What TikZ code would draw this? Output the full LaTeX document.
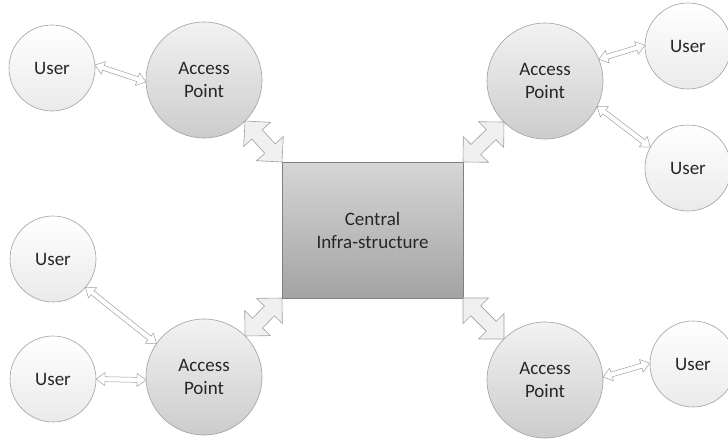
\documentclass[tikz,border=0pt]{standalone}
\usepackage{fontspec}
\setmainfont{Carlito}
\usetikzlibrary{calc}
\definecolor{lineg}{HTML}{A0A0A0}
\definecolor{txt}{HTML}{262626}
\definecolor{arrfill}{HTML}{F0F0F0}
% generic double block arrow: style, A, B, dist(h,w), angle(h,w), dist(h,s), angle(h,s)
\newcommand\dbarrow[7]{%
  \filldraw[#1] (#2)
    -- ($(#2)!#4!#5:(#3)$)
    -- ($(#2)!#6!#7:(#3)$)
    -- ($(#3)!#6!-#7:(#2)$)
    -- ($(#3)!#4!-#5:(#2)$)
    -- (#3)
    -- ($(#3)!#4!#5:(#2)$)
    -- ($(#3)!#6!#7:(#2)$)
    -- ($(#2)!#6!-#7:(#3)$)
    -- ($(#2)!#4!-#5:(#3)$)
    -- cycle;}
\newcommand\bigconn[2]{\dbarrow{bigarr}{#1}{#2}{25.456pt}{45}{19.313pt}{21.25}}
\newcommand\smallconn[2]{\dbarrow{smallarr}{#1}{#2}{11.1pt}{35.84}{9.34pt}{15.52}}
\tikzset{
  base/.style={draw=lineg, line width=0.6pt, text=txt, align=center,
    font=\fontsize{19}{23}\selectfont, inner sep=0pt, outer sep=0pt},
  user/.style={base, circle, minimum size=86pt, top color=white, bottom color=black!8},
  ap/.style={base, circle, minimum size=116pt, top color=black!5, bottom color=black!20},
  centralbox/.style={base, rectangle, minimum width=181pt, minimum height=136pt,
    top color=black!16, bottom color=black!36, draw=black!50},
  bigarr/.style={draw=lineg, fill=arrfill, line width=0.6pt, line join=miter},
  smallarr/.style={draw=lineg, fill=white, line width=0.5pt, line join=miter},
}
\begin{document}
\begin{tikzpicture}[x=1pt,y=1pt]
\clip (0,0) rectangle (728,-439);
\fill[white] (0,0) rectangle (728,-439);
% nodes
\node[user] (u1) at (52,-68) {User};
\node[ap] (ap1) at (204,-80) {Access\\Point};
\node[user] (u2) at (688,-46) {User};
\node[user] (u3) at (688,-168) {User};
\node[ap] (ap2) at (545,-81) {Access\\Point};
\node[user] (u4) at (53,-259) {User};
\node[user] (u5) at (53,-379) {User};
\node[ap] (ap3) at (204,-377) {Access\\Point};
\node[ap] (ap4) at (545,-380) {Access\\Point};
\node[user] (u6) at (693,-364) {User};
\node[centralbox] (c) at (372.5,-230) {Central\\Infra-structure};
% block arrows between access points and the central infrastructure
\bigconn{ap1.-45}{c.north west}
\bigconn{ap2.225}{c.north east}
\bigconn{ap3.45}{c.south west}
\bigconn{ap4.135}{c.south east}
% small arrows between users and access points
\smallconn{u1.4}{ap1.182}
\smallconn{ap2.22}{u2.179}
\smallconn{ap2.-26.6}{u3.151}
\smallconn{u4.-41}{ap3.145}
\smallconn{u5.0}{ap3.183}
\smallconn{ap4.3}{u6.179}
\end{tikzpicture}
\end{document}
